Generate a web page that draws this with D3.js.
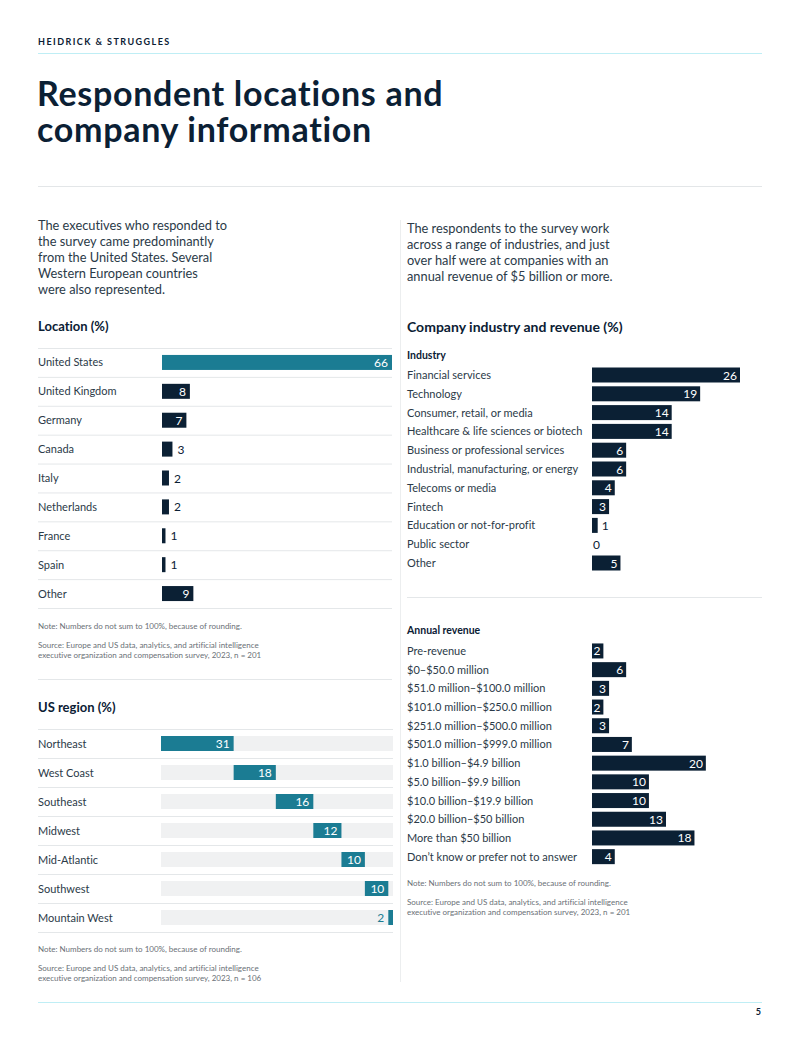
<!DOCTYPE html>
<meta charset="utf-8">
<script src="https://cdn.jsdelivr.net/npm/d3@7"></script>
<style>
  body { margin: 0; background: #fff; }
  text { font-family: Lato, "Open Sans", sans-serif; font-variant-ligatures: none; }
</style>
<body>
<script>

// ---- data ----
var locNames = ["United States", "United Kingdom", "Germany", "Canada", "Italy", "Netherlands", "France", "Spain", "Other"]
var locValues = [66, 8, 7, 3, 2, 2, 1, 1, 9]

var regionNames = ["Northeast", "West Coast", "Southeast", "Midwest", "Mid-Atlantic", "Southwest", "Mountain West"]
var regionValues = [31, 18, 16, 12, 10, 10, 2]

var industryNames = ["Financial services", "Technology", "Consumer, retail, or media", "Healthcare & life sciences or biotech",
  "Business or professional services", "Industrial, manufacturing, or energy", "Telecoms or media", "Fintech",
  "Education or not-for-profit", "Public sector", "Other"]
var industryValues = [26, 19, 14, 14, 6, 6, 4, 3, 1, 0, 5]

var revenueNames = ["Pre-revenue", "$0\u2013$50.0 million", "$51.0 million\u2013$100.0 million", "$101.0 million\u2013$250.0 million",
  "$251.0 million\u2013$500.0 million", "$501.0 million\u2013$999.0 million", "$1.0 billion\u2013$4.9 billion",
  "$5.0 billion\u2013$9.9 billion", "$10.0 billion\u2013$19.9 billion", "$20.0 billion\u2013$50 billion",
  "More than $50 billion", "Don\u2019t know or prefer not to answer"]
var revenueValues = [2, 6, 3, 2, 3, 7, 20, 10, 10, 13, 18, 4]

var navy = "#0b2034"
var teal = "#1b7c93"
var ink = "#2b3a48"
var grey = "#6a7076"

var svg = d3.select("body").append("svg")
            .attr("width", 800)
            .attr("height", 1063)
            .style("display", "block")

svg.append("rect").attr("width", 800).attr("height", 1063).attr("fill", "#fff")

function hline(x1, x2, y, color) {
  svg.append("line")
     .attr("x1", x1).attr("x2", x2).attr("y1", y).attr("y2", y)
     .style("stroke", color).style("stroke-width", 1)
}

function para(x, y, lines, size, color, lh, weight, spacing) {
  lines.forEach(function(l, i) {
    svg.append("text")
       .attr("x", x).attr("y", y + i * lh)
       .style("font-size", size + "px")
       .style("fill", color)
       .style("font-weight", weight || 400)
       .style("letter-spacing", (spacing || 0) + "px")
       .text(l)
  })
}

// ---- header ----
svg.append("text")
   .attr("x", 38).attr("y", 45)
   .style("font-size", "9px").style("font-weight", 700)
   .style("letter-spacing", "1.45px").style("fill", navy)
   .text("HEIDRICK & STRUGGLES")
hline(38, 762, 53.5, "#bfeef5")

para(37, 106, ["Respondent locations and", "company information"], 34, navy, 36, 700, 0.7)
hline(38, 762, 186.5, "#e3e6e8")

svg.append("line")
   .attr("x1", 400.5).attr("x2", 400.5).attr("y1", 220).attr("y2", 982)
   .style("stroke", "#eceeef")

para(38, 230, ["The executives who responded to", "the survey came predominantly", "from the United States. Several",
  "Western European countries", "were also represented."], 12.8, ink, 16)
para(407, 233, ["The respondents to the survey work", "across a range of industries, and just",
  "over half were at companies with an", "annual revenue of $5 billion or more."], 12.8, ink, 16)

// ---- location ----
svg.append("text").attr("x", 38).attr("y", 331)
   .style("font-size", "13px").style("font-weight", 700).style("fill", navy)
   .text("Location (%)")

var locY = d3.scaleBand().domain(locNames).range([348, 608])
var locX = d3.scaleLinear().domain([0, 66]).range([162, 392])

locNames.forEach(function(n, i) {
  hline(38, 392, locY(n) + 0.5, "#e4e7e9")
})
hline(38, 392, 608.5, "#e4e7e9")

var loc = svg.append("g").selectAll("g")
             .data(locNames.map(function(n, i) { return {name: n, v: locValues[i]} }))
             .join("g")

loc.append("text")
   .attr("x", 38).attr("y", function(d) { return locY(d.name) + locY.bandwidth() / 2 + 4 })
   .style("font-size", "11px").style("fill", ink)
   .text(function(d) { return d.name })

loc.append("rect")
   .attr("x", locX(0))
   .attr("y", function(d) { return locY(d.name) + locY.bandwidth() / 2 - 7.5 })
   .attr("width", function(d) { return locX(d.v) - locX(0) })
   .attr("height", 15)
   .style("fill", function(d, i) { return i == 0 ? teal : navy })

loc.append("text")
   .attr("x", function(d) { return d.v >= 7 ? locX(d.v) - 4 : locX(d.v) + 5 })
   .attr("y", function(d) { return locY(d.name) + locY.bandwidth() / 2 + 4.5 })
   .style("text-anchor", function(d) { return d.v >= 7 ? "end" : "start" })
   .style("font-size", "12px")
   .style("fill", function(d) { return d.v >= 7 ? "#fff" : navy })
   .text(function(d) { return d.v })

var noteText = "Note: Numbers do not sum to 100%, because of rounding."
var srcText1 = "Source: Europe and US data, analytics, and artificial intelligence"
para(38, 629, [noteText], 8, grey, 10)
para(38, 648, [srcText1, "executive organization and compensation survey, 2023, n = 201"], 8, grey, 10)

hline(38, 392, 679.5, "#e4e7e9")

// ---- US region ----
svg.append("text").attr("x", 38).attr("y", 712)
   .style("font-size", "13px").style("font-weight", 700).style("fill", navy)
   .text("US region (%)")

var regY = d3.scaleBand().domain(regionNames).range([729, 932])
var regX = d3.scaleLinear().domain([0, d3.sum(regionValues)]).range([161, 393])

regionNames.forEach(function(n) { hline(38, 393, regY(n) + 0.5, "#e4e7e9") })
hline(38, 393, 932.5, "#e4e7e9")

var cum = 0
var regData = regionNames.map(function(n, i) {
  var d = {name: n, v: regionValues[i], start: cum}
  cum += regionValues[i]
  return d
})

var reg = svg.append("g").selectAll("g").data(regData).join("g")

reg.append("text")
   .attr("x", 38).attr("y", function(d) { return regY(d.name) + regY.bandwidth() / 2 + 4 })
   .style("font-size", "11px").style("fill", ink)
   .text(function(d) { return d.name })

reg.append("rect")
   .attr("x", regX(0))
   .attr("y", function(d) { return regY(d.name) + regY.bandwidth() / 2 - 7.5 })
   .attr("width", regX(cum) - regX(0))
   .attr("height", 15)
   .style("fill", "#f0f1f2")

reg.append("rect")
   .attr("x", function(d) { return regX(d.start) })
   .attr("y", function(d) { return regY(d.name) + regY.bandwidth() / 2 - 7.5 })
   .attr("width", function(d) { return regX(d.start + d.v) - regX(d.start) })
   .attr("height", 15)
   .style("fill", teal)

reg.append("text")
   .attr("x", function(d) { return d.v >= 5 ? regX(d.start + d.v) - 4 : regX(d.start) - 4 })
   .attr("y", function(d) { return regY(d.name) + regY.bandwidth() / 2 + 4.5 })
   .style("text-anchor", "end")
   .style("font-size", "12px")
   .style("fill", function(d) { return d.v >= 5 ? "#fff" : teal })
   .text(function(d) { return d.v })

para(38, 952, [noteText], 8, grey, 10)
para(38, 971, [srcText1, "executive organization and compensation survey, 2023, n = 106"], 8, grey, 10)

// ---- industry and revenue ----
svg.append("text").attr("x", 407).attr("y", 332)
   .style("font-size", "14px").style("font-weight", 700).style("fill", navy)
   .text("Company industry and revenue (%)")

var barX = d3.scaleLinear().domain([0, 26]).range([592, 740])

function smallChart(title, titleY, names, values, top, step) {
  svg.append("text").attr("x", 407).attr("y", titleY)
     .style("font-size", "10.5px").style("font-weight", 700).style("fill", navy)
     .text(title)

  var y = d3.scaleBand().domain(names).range([top, top + step * names.length])
  var g = svg.append("g").selectAll("g")
             .data(names.map(function(n, i) { return {name: n, v: values[i]} }))
             .join("g")

  g.append("text")
   .attr("x", 407).attr("y", function(d) { return y(d.name) + step / 2 + 4 })
   .style("font-size", "11px").style("fill", ink)
   .text(function(d) { return d.name })

  g.append("rect")
   .attr("x", barX(0))
   .attr("y", function(d) { return y(d.name) + step / 2 - 7.5 })
   .attr("width", function(d) { return barX(d.v) - barX(0) })
   .attr("height", 15)
   .style("fill", navy)

  g.append("text")
   .attr("x", function(d) { return d.v >= 2 ? barX(d.v) - 3 : (d.v == 0 ? barX(0) + 1 : barX(d.v) + 4) })
   .attr("y", function(d) { return y(d.name) + step / 2 + 4.5 })
   .style("text-anchor", function(d) { return d.v >= 2 ? "end" : "start" })
   .style("font-size", "12px")
   .style("fill", function(d) { return d.v >= 2 ? "#fff" : navy })
   .text(function(d) { return d.v })
}

smallChart("Industry", 359, industryNames, industryValues, 365.6, 18.8)
hline(407, 762, 597.5, "#e4e7e9")
smallChart("Annual revenue", 634, revenueNames, revenueValues, 641.6, 18.7)

para(407, 886, [noteText], 8, grey, 10)
para(407, 905, [srcText1, "executive organization and compensation survey, 2023, n = 201"], 8, grey, 10)

// ---- footer ----
hline(38, 762, 1002.5, "#bfeef5")
svg.append("text").attr("x", 761).attr("y", 1015)
   .style("text-anchor", "end")
   .style("font-size", "9px").style("font-weight", 700).style("fill", navy)
   .text("5")

</script>
</body>
